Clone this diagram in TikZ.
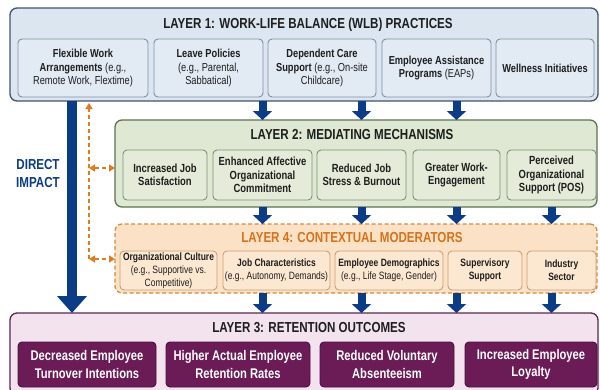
\documentclass[tikz,border=0pt]{standalone}
\usepackage{fontspec}
\setmainfont{Liberation Sans}[FakeStretch=0.8]
\usetikzlibrary{arrows.meta}

\definecolor{ink}{HTML}{1E1E1E}
\definecolor{navy}{HTML}{0C3C85}
\definecolor{lonefill}{HTML}{DCE6F1}
\definecolor{loneline}{HTML}{44546A}
\definecolor{loneifill}{HTML}{E2EAF4}
\definecolor{loneiline}{HTML}{7F8FA6}
\definecolor{ltwofill}{HTML}{DFE8D2}
\definecolor{ltwoline}{HTML}{5E7350}
\definecolor{ltwoifill}{HTML}{E4ECD9}
\definecolor{ltwoiline}{HTML}{7D9172}
\definecolor{lfourfill}{HTML}{FBE2C6}
\definecolor{lfourline}{HTML}{D88A3E}
\definecolor{lfourifill}{HTML}{FCE7D0}
\definecolor{lfouriline}{HTML}{C9A076}
\definecolor{lfourtitle}{HTML}{D4731C}
\definecolor{lthreefill}{HTML}{F2E3EE}
\definecolor{lthreeline}{HTML}{5B2552}
\definecolor{lthreeifill}{HTML}{6B1B55}
\definecolor{lthreeiline}{HTML}{4A1040}
\definecolor{modorange}{HTML}{E07B20}

\tikzset{
  every node/.style={inner sep=0pt, outer sep=0pt},
  layerbox/.style={rectangle, rounded corners=7pt, line width=1.3pt, anchor=north west},
  itembox/.style={rectangle, rounded corners=4pt, line width=0.9pt, align=center},
  title/.style={text=ink, font=\fontsize{14.5}{17}\selectfont\bfseries},
  oneitem/.style={itembox, draw=loneiline, fill=loneifill, text=ink,
    font=\fontsize{11.6}{13.8}\selectfont, minimum height=58pt},
  twoitem/.style={itembox, draw=ltwoiline, fill=ltwoifill, text=ink,
    font=\fontsize{11.8}{13.5}\selectfont\bfseries, minimum height=50pt},
  fouritem/.style={itembox, draw=lfouriline, fill=lfourifill, text=ink,
    font=\fontsize{10.6}{13}\selectfont, minimum height=39pt},
  threeitem/.style={itembox, draw=lthreeiline, fill=lthreeifill, text=white,
    font=\fontsize{14}{17.5}\selectfont\bfseries, minimum height=45pt},
  flow/.style={draw=navy, line width=8pt, -{Triangle[width=19pt,length=9pt]}},
  directflow/.style={draw=navy, line width=10.5pt, -{Triangle[width=29pt,length=17pt]}},
  modlink/.style={draw=modorange, line width=1.8pt, dash pattern=on 4pt off 3pt},
  modtip/.tip={Triangle[width=7pt,length=6pt]},
}

\begin{document}
\begin{tikzpicture}[x=1pt, y=-1pt]
\clip (0,0) rectangle (600,389);
\fill[white] (0,0) rectangle (600,389);

% ---------- Layer 1: practices ----------
\node[layerbox, draw=loneline, fill=lonefill, minimum width=588pt, minimum height=93pt] (l1) at (10,8) {};
\node[title] (t1) at (308,25) {LAYER 1: WORK-LIFE BALANCE (WLB) PRACTICES};
\node[oneitem, minimum width=130pt] (p1) at (83,68)
  {\textbf{Flexible Work}\\\textbf{Arrangements} (e.g.,\\Remote Work, Flextime)};
\node[oneitem, minimum width=109pt] (p2) at (208.5,68)
  {\textbf{Leave Policies}\\(e.g., Parental,\\Sabbatical)};
\node[oneitem, minimum width=108pt] (p3) at (322,68)
  {\textbf{Dependent Care}\\\textbf{Support} (e.g., On-site\\Childcare)};
\node[oneitem, minimum width=109pt] (p4) at (436.5,68)
  {\textbf{Employee Assistance}\\\textbf{Programs} (EAPs)};
\node[oneitem, minimum width=98pt] (p5) at (545,68)
  {\textbf{Wellness Initiatives}};

% ---------- Layer 2: mediators ----------
\node[layerbox, draw=ltwoline, fill=ltwofill, minimum width=482pt, minimum height=87pt] (l2) at (115,120) {};
\node[title] (t2) at (352,135) {LAYER 2: MEDIATING MECHANISMS};
\node[twoitem, minimum width=84pt] (m1) at (165,175) {Increased Job\\Satisfaction};
\node[twoitem, minimum width=99pt] (m2) at (262.5,175) {Enhanced Affective\\Organizational\\Commitment};
\node[twoitem, minimum width=89pt] (m3) at (361.5,175) {Reduced Job\\Stress \& Burnout};
\node[twoitem, minimum width=87pt] (m4) at (456.5,175) {Greater Work-\\Engagement};
\node[twoitem, minimum width=89pt] (m5) at (551.5,175) {Perceived\\Organizational\\Support (POS)};

% ---------- Layer 4: moderators ----------
\node[layerbox, draw=lfourline, fill=lfourfill, dash pattern=on 4pt off 2.5pt, minimum width=482pt, minimum height=69pt] (l4) at (115,224) {};
\node[title, text=lfourtitle] (t4) at (352,238) {LAYER 4: CONTEXTUAL MODERATORS};
\node[fouritem, minimum width=97pt] (c1) at (168.5,270.5)
  {\textbf{Organizational Culture}\\(e.g., Supportive vs.\\Competitive)};
\node[fouritem, minimum width=107pt] (c2) at (276.5,270.5)
  {\textbf{Job Characteristics}\\(e.g., Autonomy, Demands)};
\node[fouritem, minimum width=108pt] (c3) at (389,270.5)
  {\textbf{Employee Demographics}\\(e.g., Life Stage, Gender)};
\node[fouritem, minimum width=74pt] (c4) at (485,270.5)
  {\textbf{Supervisory}\\\textbf{Support}};
\node[fouritem, minimum width=69pt] (c5) at (561.5,270.5)
  {\textbf{Industry}\\\textbf{Sector}};

% ---------- Layer 3: outcomes ----------
\node[layerbox, draw=lthreeline, fill=lthreefill, minimum width=588pt, minimum height=82pt] (l3) at (10,313) {};
\node[title] (t3) at (309,328) {LAYER 3: RETENTION OUTCOMES};
\node[threeitem, minimum width=138pt] (r1) at (87,364.5) {Decreased Employee\\Turnover Intentions};
\node[threeitem, minimum width=144pt] (r2) at (238,364.5) {Higher Actual Employee\\Retention Rates};
\node[threeitem, minimum width=134pt] (r3) at (387,364.5) {Reduced Voluntary\\Absenteeism};
\node[threeitem, minimum width=132pt] (r4) at (531,364.5) {Increased Employee\\Loyalty};

% ---------- flows between layers ----------
\foreach \m in {m2,m3,m4}
  \draw[flow] (\m |- l1.south) -- (\m |- l2.north);
\foreach \m in {m2,m3,m4,m5}
  \draw[flow] (\m |- l2.south) -- (\m |- l4.north);
\foreach \m in {m2,m3,m4,m5}
  \draw[flow] (\m |- l4.south) -- (\m |- l3.north);

% ---------- direct impact ----------
\coordinate (dx) at (72,0);
\draw[directflow] (dx |- l1.south) -- (dx |- l3.north);
\node[text=navy, font=\fontsize{14.5}{18}\selectfont\bfseries, align=center] (dlabel) at (38,174) {DIRECT\\IMPACT};

% ---------- moderating links ----------
\coordinate (mtop) at (89,103);
\coordinate (mmid) at (89,168);
\coordinate (mlow) at (89,259);
\draw[modlink, -{modtip}] (mlow) -- (mtop);
\draw[modlink, {modtip}-{modtip}] (mmid) -- (mmid -| l2.west);
\draw[modlink, {modtip}-{modtip}] (mlow) -- (mlow -| l4.west);
\end{tikzpicture}
\end{document}
